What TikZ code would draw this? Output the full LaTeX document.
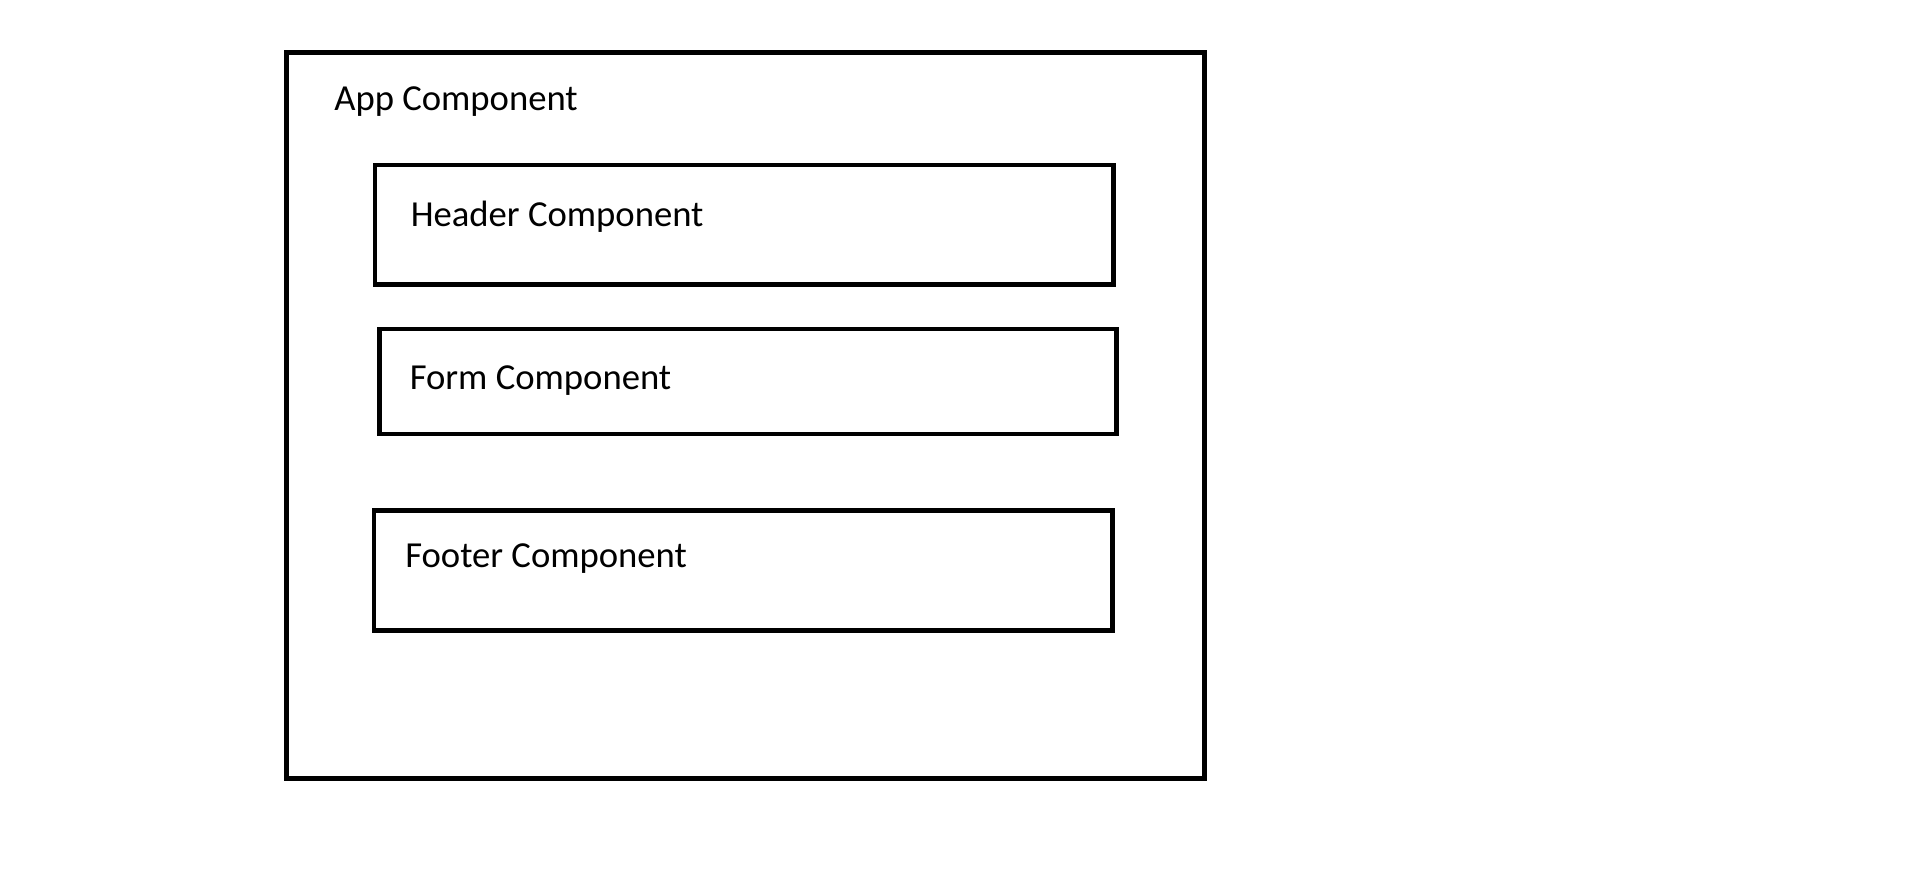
\documentclass[tikz,border=0pt]{standalone}
\usepackage{fontspec}
\setmainfont{Carlito}
\usepackage{tikz}
\usetikzlibrary{fit}

\begin{document}
\begin{tikzpicture}[x=0.75pt, y=-0.75pt,
    compbox/.style={draw, line width=3.6pt, rectangle, inner sep=0pt},
    complabel/.style={anchor=base west, inner sep=0pt, font=\fontsize{27.5}{33}\selectfont}]
    \useasboundingbox (0,0) rectangle (1914,874);
    % outer app box
    \node[compbox, fit={(286.7,52.7) (1204.3,778.3)}] (app) {};
    \node[complabel] (applbl) at (334,110) {App Component};
    % children
    \node[compbox, fit={(375,165) (1113.3,284.3)}] (header) {};
    \node[complabel] (headerlbl) at (410.5,226) {Header Component};
    \node[compbox, fit={(379.3,329) (1116.7,434)}] (form) {};
    \node[complabel] (formlbl) at (409.5,389.3) {Form Component};
    \node[compbox, fit={(374,510.3) (1112.7,630.7)}] (footer) {};
    \node[complabel] (footerlbl) at (405,567.7) {Footer Component};
\end{tikzpicture}
\end{document}
